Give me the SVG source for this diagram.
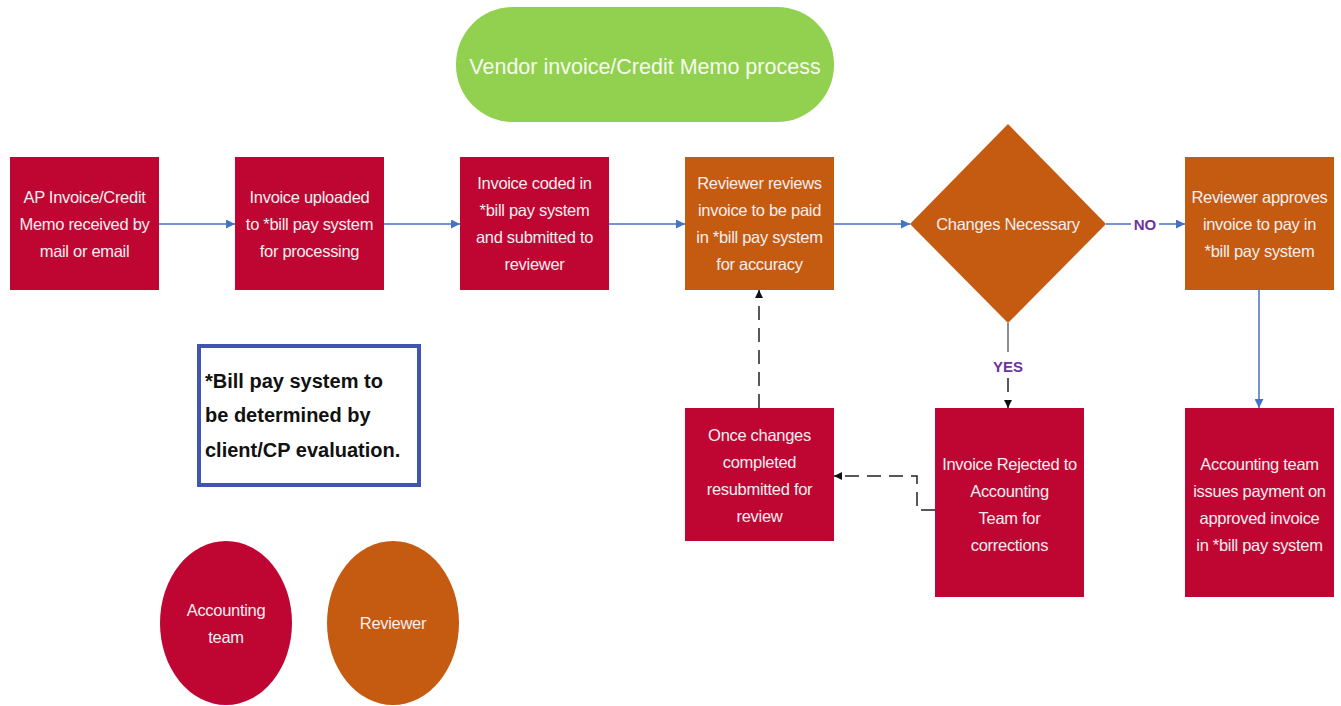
<svg xmlns="http://www.w3.org/2000/svg" width="1341" height="706" viewBox="0 0 1341 706">
<defs>
<style>
.red{fill:#bf0532;}
.org{fill:#c55a11;}
.t{font-family:"Liberation Sans","Noto Sans",sans-serif;font-size:16.5px;letter-spacing:-0.3px;fill:#f5eef0;text-anchor:middle;}
.title{font-family:"Liberation Sans","Noto Sans",sans-serif;font-size:21.5px;fill:#f7fbef;text-anchor:middle;}
.note{font-family:"Liberation Sans","DejaVu Sans",sans-serif;font-size:20px;font-weight:bold;fill:#111;}
.lbl{font-family:"Liberation Sans",sans-serif;font-size:15px;font-weight:bold;fill:#7030a0;text-anchor:middle;}
.blue{stroke:#4472c4;stroke-width:1.5;fill:none;marker-end:url(#ab);}
.dash{stroke:#222;stroke-width:1.5;fill:none;stroke-dasharray:14 8;marker-end:url(#ak);}
</style>
<marker id="ab" viewBox="0 0 10 10" refX="10" refY="5" markerWidth="9" markerHeight="9" markerUnits="userSpaceOnUse" orient="auto"><path d="M0,0 L10,5 L0,10 z" fill="#4472c4"/></marker>
<marker id="ak" viewBox="0 0 10 10" refX="10" refY="5" markerWidth="8" markerHeight="8" markerUnits="userSpaceOnUse" orient="auto"><path d="M0,0 L10,5 L0,10 z" fill="#111"/></marker>
</defs>
<rect width="1341" height="706" fill="#ffffff"/>

<g id="connectors">
<line class="blue" x1="159" y1="224" x2="235" y2="224"/>
<line class="blue" x1="384" y1="224" x2="460" y2="224"/>
<line class="blue" x1="609" y1="224" x2="685" y2="224"/>
<line class="blue" x1="834" y1="224" x2="910" y2="224"/>
<line class="blue" x1="1106" y1="224" x2="1185" y2="224"/>
<rect x="1131" y="214" width="28" height="20" fill="#ffffff"/>
<text class="lbl" x="1145" y="230">NO</text>
<line class="blue" x1="1259" y1="290" x2="1259" y2="408"/>
<line x1="1008" y1="323" x2="1008" y2="352" stroke="#666" stroke-width="1.5"/>
<path class="dash" d="M1008,378 L1008,408" stroke-dasharray="6 5"/>
<text class="lbl" x="1008" y="372">YES</text>
<path class="dash" d="M935,510 L917,510 L917,476 L834,476"/>
<path class="dash" d="M759,408 L759,290"/>
</g>

<g id="title">
<rect x="456" y="7" width="378" height="115" rx="57" fill="#92d050"/>
<text class="title" x="645" y="74">Vendor invoice/Credit Memo process</text>
</g>

<g id="n1">
<rect class="red" x="10" y="157" width="149" height="133"/>
<text class="t" x="84.5" y="203">AP Invoice/Credit</text>
<text class="t" x="84.5" y="230">Memo received by</text>
<text class="t" x="84.5" y="257">mail or email</text>
</g>
<g id="n2">
<rect class="red" x="235" y="157" width="149" height="133"/>
<text class="t" x="309.5" y="203">Invoice uploaded</text>
<text class="t" x="309.5" y="230">to *bill pay system</text>
<text class="t" x="309.5" y="257">for processing</text>
</g>
<g id="n3">
<rect class="red" x="460" y="157" width="149" height="133"/>
<text class="t" x="534.5" y="189">Invoice coded in</text>
<text class="t" x="534.5" y="216">*bill pay system</text>
<text class="t" x="534.5" y="243">and submitted to</text>
<text class="t" x="534.5" y="270">reviewer</text>
</g>
<g id="n4">
<rect class="org" x="685" y="157" width="149" height="133"/>
<text class="t" x="759.5" y="189">Reviewer reviews</text>
<text class="t" x="759.5" y="216">invoice to be paid</text>
<text class="t" x="759.5" y="243">in *bill pay system</text>
<text class="t" x="759.5" y="270">for accuracy</text>
</g>
<g id="n5">
<polygon class="org" points="1008,124 1106,224 1008,323 910,224"/>
<text class="t" x="1008" y="230">Changes Necessary</text>
</g>
<g id="n6">
<rect class="org" x="1185" y="157" width="149" height="133"/>
<text class="t" x="1259.5" y="203">Reviewer approves</text>
<text class="t" x="1259.5" y="230">invoice to pay in</text>
<text class="t" x="1259.5" y="257">*bill pay system</text>
</g>
<g id="n7">
<rect class="red" x="685" y="408" width="149" height="133"/>
<text class="t" x="759.5" y="441">Once changes</text>
<text class="t" x="759.5" y="468">completed</text>
<text class="t" x="759.5" y="495">resubmitted for</text>
<text class="t" x="759.5" y="522">review</text>
</g>
<g id="n8">
<rect class="red" x="935" y="408" width="149" height="189"/>
<text class="t" x="1009.5" y="470">Invoice Rejected to</text>
<text class="t" x="1009.5" y="497">Accounting</text>
<text class="t" x="1009.5" y="524">Team for</text>
<text class="t" x="1009.5" y="551">corrections</text>
</g>
<g id="n9">
<rect class="red" x="1185" y="408" width="149" height="189"/>
<text class="t" x="1259.5" y="470">Accounting team</text>
<text class="t" x="1259.5" y="497">issues payment on</text>
<text class="t" x="1259.5" y="524">approved invoice</text>
<text class="t" x="1259.5" y="551">in *bill pay system</text>
</g>
<g id="note">
<rect x="199" y="346" width="220" height="139" fill="#ffffff" stroke="#3f55b0" stroke-width="4"/>
<text class="note" x="205" y="388">*Bill pay system to</text>
<text class="note" x="205" y="422">be determined by</text>
<text class="note" x="205" y="457">client/CP evaluation.</text>
</g>
<g id="legend-accounting">
<ellipse class="red" cx="226" cy="623" rx="66" ry="82"/>
<text class="t" x="226" y="616">Accounting</text>
<text class="t" x="226" y="643">team</text>
</g>
<g id="legend-reviewer">
<ellipse class="org" cx="393" cy="623" rx="66" ry="82"/>
<text class="t" x="393" y="629">Reviewer</text>
</g>
</svg>
